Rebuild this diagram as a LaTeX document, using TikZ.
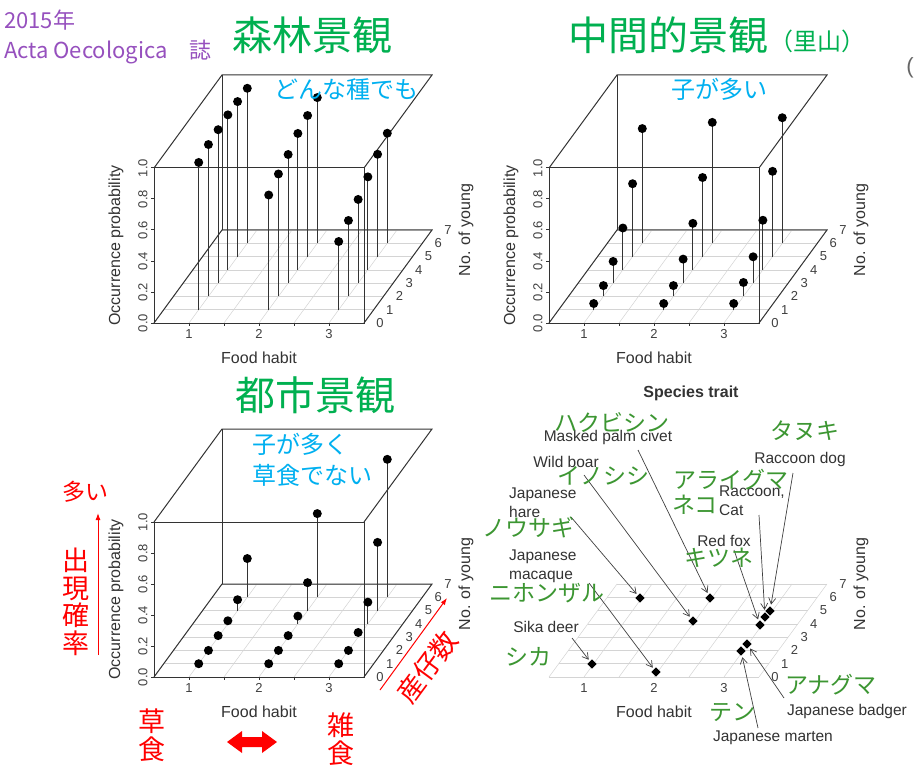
\documentclass[tikz,border=0pt]{standalone}
\usepackage{fontspec}
\setmainfont{Liberation Sans}
\newfontfamily\jpfont{Noto Sans CJK JP}
\usepackage{tikz}
\usetikzlibrary{arrows.meta,shapes.geometric,calc}
\definecolor{titlegreen}{RGB}{0,176,80}
\definecolor{notepurple}{RGB}{150,80,190}
\definecolor{noteblue}{RGB}{0,176,240}
\definecolor{namegreen}{RGB}{60,150,50}
\definecolor{gridgray}{RGB}{212,212,212}
\tikzset{
	frame/.style={line width=1pt,black!80},
	floor/.style={line width=0.5pt,gridgray},
	stem/.style={line width=1pt,black!80},
	ticklab/.style={font=\fontsize{13}{13}\selectfont,text=black!75,inner sep=0pt},
	axlab/.style={font=\fontsize{16}{16}\selectfont,text=black!80,inner sep=0pt},
	sp/.style={diamond,fill=black,inner sep=0pt,minimum width=11pt,minimum height=11pt,outer sep=2pt},
	ptr/.style={line width=0.7pt,black!75,-{Straight Barb[length=6pt,width=7pt]}},
	spname/.style={font=\fontsize{15.5}{19}\selectfont,text=black!80,inner sep=0pt,align=left},
	kana/.style={font=\jpfont\fontsize{23}{23}\selectfont,text=namegreen,inner sep=0pt},
	bigtitle/.style={font=\jpfont\fontsize{40}{40}\selectfont,text=titlegreen,inner sep=0pt},
	bluenote/.style={font=\jpfont\fontsize{24}{31}\selectfont,text=noteblue,inner sep=0pt,align=left},
	rednote/.style={font=\jpfont\fontsize{27}{27.5}\selectfont,text=red,inner sep=0pt,align=center},
	redarrow/.style={red,line width=1pt,-{Latex[length=7pt,width=5pt]}},
	axes3d/.style={x={(70pt,0pt)},y={(9.714pt,13.286pt)},z={(0pt,155pt)}}
}
%Grille du plancher
\newcommand{\floorgrid}{%
	\foreach \a in {0.5,1,...,3.5} \draw[floor] (\a,0,0) -- (\a,7,0);
	\foreach \b in {0,...,7} \draw[floor] (0.5,\b,0) -- (3.5,\b,0);
}
%Axes du plancher
\newcommand{\flooraxes}[1]{%
	\foreach \a in {1,2,3} \path (\a,0,0) ++(0pt,-11pt) node[ticklab] (#1x\a) {\a};
	\foreach \b in {0,...,7} \path (3.5,\b,0) ++(16pt,0pt) node[ticklab] (#1y\b) {\b};
	\path (2,0,0) ++(0pt,-35pt) node[axlab] (#1food) {Food habit};
	\path (3.5,7,0) ++(34pt,0pt) node[axlab,rotate=90] (#1young) {No. of young};
}
%Boite
\newcommand{\plotbox}[1]{%
	\draw[frame] (0.5,0,0) -- (3.5,0,0) -- (3.5,0,1) -- (0.5,0,1) -- cycle;
	\draw[frame] (0.5,0,1) -- (0.5,7,1) -- (3.5,7,1) -- (3.5,0,1);
	\draw[frame] (0.5,0,0) -- (0.5,7,0) -- (3.5,7,0) -- (3.5,0,0);
	\draw[frame] (0.5,7,0) -- (0.5,7,1);
	\foreach \a in {1,1.5,...,3} \draw[frame] (\a,0,0) -- ++(0pt,-3pt);
	\foreach \c in {0.0,0.2,0.4,0.6,0.8,1.0} {
		\draw[frame] (0.5,0,\c) -- ++(-3pt,0pt);
		\path (0.5,0,\c) ++(-11pt,0pt) node[ticklab,rotate=90] (#1z\c) {\c};
	}
	\path (0.5,0,0.5) ++(-38pt,0pt) node[axlab,rotate=90] (#1prob) {Occurrence probability};
}
%Points et tiges
\newcommand{\stems}[1]{%
	\foreach \f/\zs in {#1} {
		\foreach \z [count=\n] in \zs {
			\draw[stem] (\f,\n,0) -- (\f,\n,\z);
			\fill (\f,\n,\z) circle (4.5pt);
		}
	}
}

\begin{document}
\begin{tikzpicture}[x=1pt,y=-1pt]
	\fill[white] (0,0) rectangle (916,765);
	\useasboundingbox (0,0) rectangle (916,765);
	
	%Titres
	\node[font=\jpfont\fontsize{22}{22}\selectfont,text=notepurple,inner sep=0pt,anchor=west] (year) at (4,20) {2015年};
	\node[font=\jpfont\fontsize{22}{22}\selectfont,text=notepurple,inner sep=0pt,anchor=west] (journal) at (4,52) {Acta Oecologica　誌};
	\node[bigtitle] (forest) at (312,35) {森林景観};
	\node[bigtitle] (middle) at (668,35) {中間的景観};
	\node[font=\jpfont\fontsize{24}{24}\selectfont,text=titlegreen,inner sep=0pt] (satoyama) at (817,41) {（里山）};
	\node[bigtitle] (urban) at (315,395) {都市景観};
	\node[font=\fontsize{22}{22}\selectfont,text=black!60,inner sep=0pt] (cut) at (910,68) {(};
	
	%Foret
	\begin{scope}[shift={(119,323)},axes3d]
		\floorgrid
		\plotbox{a}
		\flooraxes{a}
		\stems{1/{.95,.98,.99,1,1,1},2/{.74,.79,.83,.88,.91,.94},3/{.44,.49,.54,.60,.66,.71}}
	\end{scope}
	\node[bluenote] (anyspecies) at (346,90) {どんな種でも};
	
	%Intermediaire
	\begin{scope}[shift={(514,323)},axes3d]
		\floorgrid
		\plotbox{b}
		\flooraxes{b}
		\stems{1/{.04,.07,.14,.27,.47,.74},2/{.04,.07,.155,.30,.51,.78},3/{.04,.09,.17,.32,.55,.81}}
	\end{scope}
	\node[bluenote] (manyyoung) at (719,89) {子が多い};
	
	%Urbain
	\begin{scope}[shift={(119,677)},axes3d]
		\floorgrid
		\plotbox{c}
		\flooraxes{c}
		\stems{1/{0,0,.01,.02,.07,.25},2/{0,0,.01,.05,.18,.54},3/{0,0,.03,.14,.44,.89}}
	\end{scope}
	\node[bluenote,anchor=west] (notherb) at (252,460) {子が多く\\草食でない};
	
	%Annotations rouges
	\node[font=\jpfont\fontsize{23}{23}\selectfont,text=red,inner sep=0pt] (many) at (85,492) {多い};
	\coordinate (probLow) at (98,655);
	\coordinate (probHigh) at (98,513);
	\draw[redarrow] (probLow) -- (probHigh);
	\node[rednote] (occur) at (76,602) {出\\現\\確\\率};
	\coordinate (youngLow) at (380,690);
	\coordinate (youngHigh) at (447,598);
	\draw[redarrow] (youngLow) -- (youngHigh);
	\node[rednote,rotate=53.6] (litter) at (427,667) {産仔数};
	\node[rednote] (herb) at (152,735) {草\\食};
	\node[rednote] (omni) at (341,739) {雑\\食};
	\fill[red] (227,742) -- (242,731) -- (242,737) -- (262,737) -- (262,731) -- (277,742)
		-- (262,753) -- (262,747) -- (242,747) -- (242,753) -- cycle;
	
	%Traits des especes
	\begin{scope}[shift={(514,677)},axes3d]
		\floorgrid
		\flooraxes{d}
	\end{scope}
	\node[font=\bfseries\fontsize{16}{16}\selectfont,text=black!80,inner sep=0pt] (trait) at (691,393) {Species trait};
	
	\node[sp] (deer) at (592,664) {};
	\node[sp] (macaque) at (656,672) {};
	\node[sp] (hare) at (640,598) {};
	\node[sp] (boar) at (693,621) {};
	\node[sp] (civet) at (710,598) {};
	\node[sp] (fox) at (760,625) {};
	\node[sp] (cat) at (765,617) {};
	\node[sp] (rdog) at (770,611) {};
	\node[sp] (badger) at (747,644) {};
	\node[sp] (marten) at (741,651) {};
	
	\coordinate (deer-from) at (572,638);
	\coordinate (macaque-from) at (589,583);
	\coordinate (hare-from) at (571,517);
	\coordinate (boar-from) at (584,475);
	\coordinate (civet-from) at (638,450);
	\coordinate (fox-from) at (734,550);
	\coordinate (cat-from) at (759,515);
	\coordinate (rdog-from) at (793,473);
	\coordinate (badger-from) at (784,698);
	\coordinate (marten-from) at (758,728);
	\foreach \s in {deer,macaque,hare,boar,civet,fox,cat,rdog,badger,marten}
		\draw[ptr] (\s-from) -- (\s);
	
	\node[spname] (civet-lab) at (608,437) {Masked palm civet};
	\node[spname] (boar-lab) at (566,462) {Wild boar};
	\node[spname,anchor=west] (hare-lab) at (509,503) {Japanese\\hare};
	\node[spname,anchor=west] (macaque-lab) at (509,566) {Japanese\\macaque};
	\node[spname] (deer-lab) at (546,627) {Sika deer};
	\node[spname] (fox-lab) at (724,541) {Red fox};
	\node[spname,anchor=west] (cat-lab) at (719,501) {Raccoon,\\Cat};
	\node[spname] (rdog-lab) at (800,459) {Raccoon dog};
	\node[spname] (badger-lab) at (847,711) {Japanese badger};
	\node[spname] (marten-lab) at (773,738) {Japanese marten};
	
	\node[kana] (civet-kana) at (612,423) {ハクビシン};
	\node[kana] (rdog-kana) at (805,431) {タヌキ};
	\node[kana] (boar-kana) at (603,476) {イノシシ};
	\node[kana] (raccoon-kana) at (731,480) {アライグマ};
	\node[kana] (cat-kana) at (695,505) {ネコ};
	\node[kana] (hare-kana) at (528,527) {ノウサギ};
	\node[kana] (fox-kana) at (719,558) {キツネ};
	\node[kana] (macaque-kana) at (547,593) {ニホンザル};
	\node[kana] (deer-kana) at (528,657) {シカ};
	\node[kana] (badger-kana) at (831,685) {アナグマ};
	\node[kana] (marten-kana) at (732,713) {テン};
	
\end{tikzpicture}
\end{document}
